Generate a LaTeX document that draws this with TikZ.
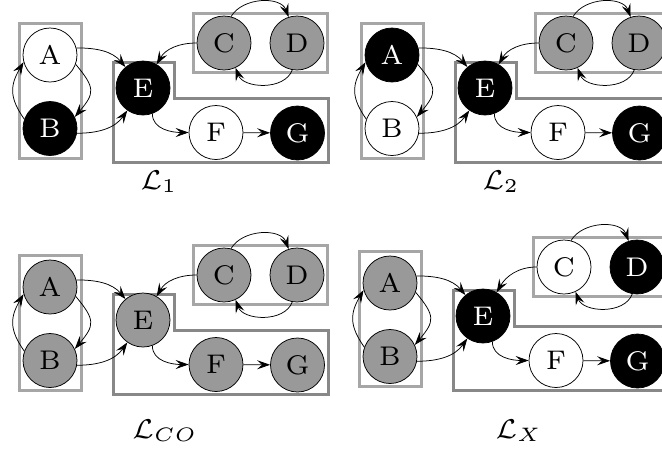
\documentclass[tikz,border=0pt]{standalone}
\usepackage{graphicx}
\usetikzlibrary{arrows.meta}
\font\nodefont="[lmroman7-regular]:+tlig;" at 27pt
\definecolor{nodegray}{HTML}{999999}
\definecolor{boxlight}{HTML}{A6A6A6}
\definecolor{boxdark}{HTML}{888888}
\tikzset{
 vtx/.style={circle, draw=black, line width=0.75pt, minimum size=54pt, inner sep=0pt, font=\nodefont},
 vw/.style={vtx, fill=white},
 vk/.style={vtx, fill=black, text=white},
 vg/.style={vtx, fill=nodegray},
 edge/.style={line width=0.75pt, -{Stealth[length=13pt,width=9pt,inset=5pt]}},
 grp/.style={draw=boxlight, line width=3pt},
 lgrp/.style={draw=boxdark, line width=3pt},
 lab/.style={anchor=base},
}
\newcommand\biglab[1]{\scalebox{3.9}{\fontsize{7}{8}\selectfont$#1$}}
\newcommand\grafo[9]{%
 \draw[grp] (19,23) rectangle (81,158);
 \draw[lgrp] (113,62) -- (174,62) -- (174,98) -- (328,98) -- (328,162) -- (113,162) -- cycle;
 \begin{scope}[shift={(0,#9)}]
  \draw[grp] (193,13) rectangle (327,72);
  \node[#4] (#1C) at (224,43) {C};
  \node[#5] (#1D) at (297,43) {D};
 \end{scope}
 \node[#2] (#1A) at (50,55) {A};
 \node[#3] (#1B) at (50,128.5) {B};
 \node[#6] (#1E) at (143,88) {E};
 \node[#7] (#1F) at (216,132.5) {F};
 \node[#8] (#1G) at (297.5,133) {G};
 \draw[edge] (#1A.15) to[out=0,in=130] (#1E);
 \draw[edge] (#1B.-10) to[out=0,in=235] (#1E);
 \draw[edge] (#1A.-20) to[out=-50,in=50,looseness=1.5] (#1B.25);
 \draw[edge] (#1B.160) to[out=125,in=240,looseness=1.2] (#1A.195);
 \draw[edge] (#1C.west) to[out=180,in=60] (#1E);
 \draw[edge] (#1C.75) to[out=60,in=110] (#1D.108);
 \draw[edge] (#1D.-100) to[out=-110,in=-70] (#1C.-65);
 \draw[edge] (#1E.-70) to[out=-90,in=180] (#1F);
 \draw[edge] (#1F) -- (#1G);
}
\begin{document}
\begin{tikzpicture}[x=1pt,y=-1pt]
\useasboundingbox (0,0) rectangle (662,451);
\clip (0,0) rectangle (662,451);
\begin{scope}
 \grafo{a}{vw}{vk}{vg}{vg}{vk}{vw}{vk}{0}
\end{scope}
\begin{scope}[shift={(342,0)}]
 \grafo{b}{vk}{vw}{vg}{vg}{vk}{vw}{vk}{0}
\end{scope}
\begin{scope}[shift={(0,232)}]
 \grafo{c}{vg}{vg}{vg}{vg}{vg}{vg}{vg}{0}
\end{scope}
\begin{scope}[shift={(340,228)}]
 \grafo{d}{vg}{vg}{vw}{vk}{vk}{vw}{vk}{-4}
\end{scope}
\node[lab] (l1) at (159,189) {\biglab{\mathcal{L}_1}};
\node[lab] (l2) at (501,189) {\biglab{\mathcal{L}_2}};
\node[lab] (l3) at (165,438) {\biglab{\mathcal{L}_{CO}}};
\node[lab] (l4) at (519,438) {\biglab{\mathcal{L}_X}};
\end{tikzpicture}
\end{document}
